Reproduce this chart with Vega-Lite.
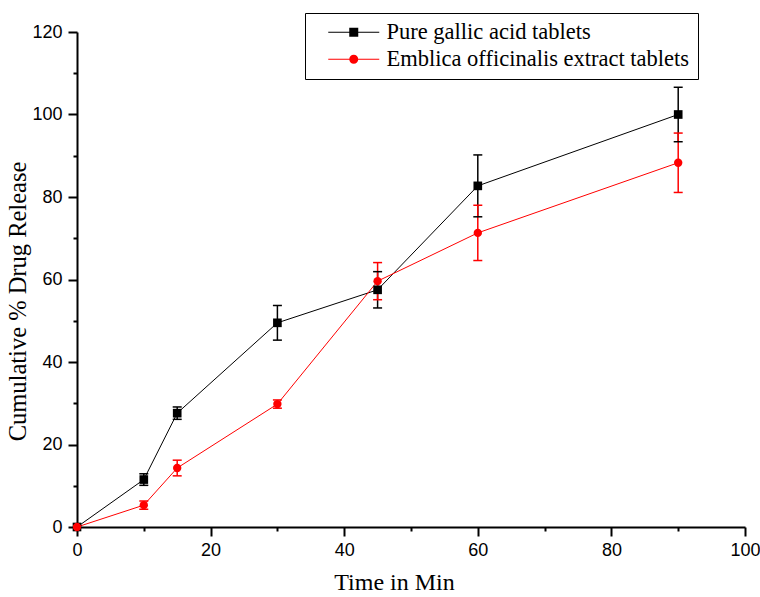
{
  "$schema": "https://vega.github.io/schema/vega-lite/v6.json",
  "autosize": "none",
  "width": 668,
  "height": 495,
  "padding": {"left": 77, "top": 32, "right": 15, "bottom": 70},
  "background": "white",
  "config": {"view": {"stroke": null}},
  "data": {"values": [
    {"series": "Pure gallic acid tablets", "t": 0, "y": 0, "lo": null, "hi": null},
    {"series": "Pure gallic acid tablets", "t": 10, "y": 11.5, "lo": 10.1, "hi": 12.9},
    {"series": "Pure gallic acid tablets", "t": 15, "y": 27.6, "lo": 26.1, "hi": 29.1},
    {"series": "Pure gallic acid tablets", "t": 30, "y": 49.5, "lo": 45.3, "hi": 53.7},
    {"series": "Pure gallic acid tablets", "t": 45, "y": 57.5, "lo": 53.1, "hi": 61.9},
    {"series": "Pure gallic acid tablets", "t": 60, "y": 82.7, "lo": 75.2, "hi": 90.2},
    {"series": "Pure gallic acid tablets", "t": 90, "y": 100.0, "lo": 93.4, "hi": 106.6},
    {"series": "Emblica officinalis extract tablets", "t": 0, "y": 0, "lo": null, "hi": null},
    {"series": "Emblica officinalis extract tablets", "t": 10, "y": 5.3, "lo": 4.3, "hi": 6.3},
    {"series": "Emblica officinalis extract tablets", "t": 15, "y": 14.3, "lo": 12.4, "hi": 16.2},
    {"series": "Emblica officinalis extract tablets", "t": 30, "y": 29.8, "lo": 28.8, "hi": 30.8},
    {"series": "Emblica officinalis extract tablets", "t": 45, "y": 59.6, "lo": 55.1, "hi": 64.1},
    {"series": "Emblica officinalis extract tablets", "t": 60, "y": 71.3, "lo": 64.6, "hi": 78.0},
    {"series": "Emblica officinalis extract tablets", "t": 90, "y": 88.3, "lo": 81.1, "hi": 95.5}
  ]},
  "encoding": {
    "x": {
      "field": "t", "type": "quantitative",
      "scale": {"domain": [0, 100], "nice": false, "zero": false},
      "axis": {
        "title": "Time in Min",
        "titleX": 317,
        "values": [0, 10, 20, 30, 40, 50, 60, 70, 80, 90, 100],
        "labelExpr": "datum.value % 20 === 0 ? datum.label : ''",
        "tickSize": {"condition": {"test": "datum.value % 20 === 0", "value": 9}, "value": 4},
        "grid": false,
        "domainColor": "#000", "domainWidth": 2,
        "tickColor": "#000", "tickWidth": 2,
        "labelFont": "Liberation Sans", "labelFontSize": 18, "labelColor": "#000", "labelPadding": 5,
        "labelFlush": false,
        "titleFont": "Liberation Serif", "titleFontSize": 24, "titleFontWeight": "normal", "titleColor": "#000", "titlePadding": 11
      }
    },
    "color": {
      "field": "series", "type": "nominal",
      "scale": {"domain": ["Pure gallic acid tablets", "Emblica officinalis extract tablets"], "range": ["#000000", "#ff0000"]},
      "legend": {
        "title": null,
        "orient": "none",
        "legendX": 228,
        "legendY": -19,
        "strokeColor": "#000",
        "fillColor": "#fff",
        "padding": 8,
        "symbolSize": 400,
        "symbolStrokeWidth": 0,
        "symbolOpacity": 1,
        "symbolOffset": 29.5,
        "symbolType": {"expr": "datum.value === 'Pure gallic acid tablets' ? 'M-2.55,-0.05H2.55V0.05H-2.55Z M-0.45,-0.45H0.45V0.45H-0.45Z' : 'M-2.55,-0.05H2.55V0.05H-2.55Z M0.45,0A0.45,0.45 0 1,1 -0.45,0A0.45,0.45 0 1,1 0.45,0Z'"},
        "labelFont": "Liberation Serif",
        "labelFontSize": 22.5,
        "labelColor": "#000",
        "labelOffset": 21.5,
        "labelLimit": 500,
        "rowPadding": 4,
        "encode": {
          "symbols": {
            "update": {
              "shape": {"signal": "datum.value === 'Pure gallic acid tablets' ? 'M-2.55,-0.05H2.55V0.05H-2.55Z M-0.45,-0.45H0.45V0.45H-0.45Z' : 'M-2.55,-0.05H2.55V0.05H-2.55Z M0.45,0A0.45,0.45 0 1,1 -0.45,0A0.45,0.45 0 1,1 0.45,0Z'"},
              "fill": {"signal": "datum.value === 'Pure gallic acid tablets' ? '#000000' : '#ff0000'"}
            }
          }
        }
      }
    }
  },
  "layer": [
    {
      "mark": {"type": "rule", "strokeWidth": 1.5},
      "encoding": {
        "y": {"field": "lo", "type": "quantitative"},
        "y2": {"field": "hi"}
      }
    },
    {
      "mark": {"type": "tick", "orient": "horizontal", "size": 9, "thickness": 1.5, "opacity": 1},
      "encoding": {
        "y": {"field": "lo", "type": "quantitative"}
      }
    },
    {
      "mark": {"type": "tick", "orient": "horizontal", "size": 9, "thickness": 1.5, "opacity": 1},
      "encoding": {
        "y": {"field": "hi", "type": "quantitative"}
      }
    },
    {
      "mark": {"type": "line", "strokeWidth": 1},
      "encoding": {
        "y": {
          "field": "y", "type": "quantitative",
          "scale": {"domain": [0, 120], "nice": false},
          "axis": {
            "title": "Cumulative % Drug Release",
            "titleY": 269,
            "values": [0, 10, 20, 30, 40, 50, 60, 70, 80, 90, 100, 110, 120],
            "labelExpr": "datum.value % 20 === 0 ? datum.label : ''",
            "tickSize": {"condition": {"test": "datum.value % 20 === 0", "value": 9}, "value": 4},
            "grid": false,
            "domainColor": "#000", "domainWidth": 2,
            "tickColor": "#000", "tickWidth": 2,
            "labelFont": "Liberation Sans", "labelFontSize": 18, "labelColor": "#000", "labelPadding": 6,
            "labelFlush": false,
            "titleFont": "Liberation Serif", "titleFontSize": 24.5, "titleFontWeight": "normal", "titleColor": "#000", "titlePadding": 1
          }
        },
        "detail": {"field": "series"}
      }
    },
    {
      "transform": [{"filter": "datum.series === 'Pure gallic acid tablets'"}],
      "mark": {"type": "point", "filled": true, "opacity": 1, "size": 75, "shape": "square"},
      "encoding": {
        "y": {"field": "y", "type": "quantitative"}
      }
    },
    {
      "transform": [{"filter": "datum.series === 'Emblica officinalis extract tablets'"}],
      "mark": {"type": "point", "filled": true, "opacity": 1, "size": 70, "shape": "circle"},
      "encoding": {
        "y": {"field": "y", "type": "quantitative"}
      }
    }
  ]
}
